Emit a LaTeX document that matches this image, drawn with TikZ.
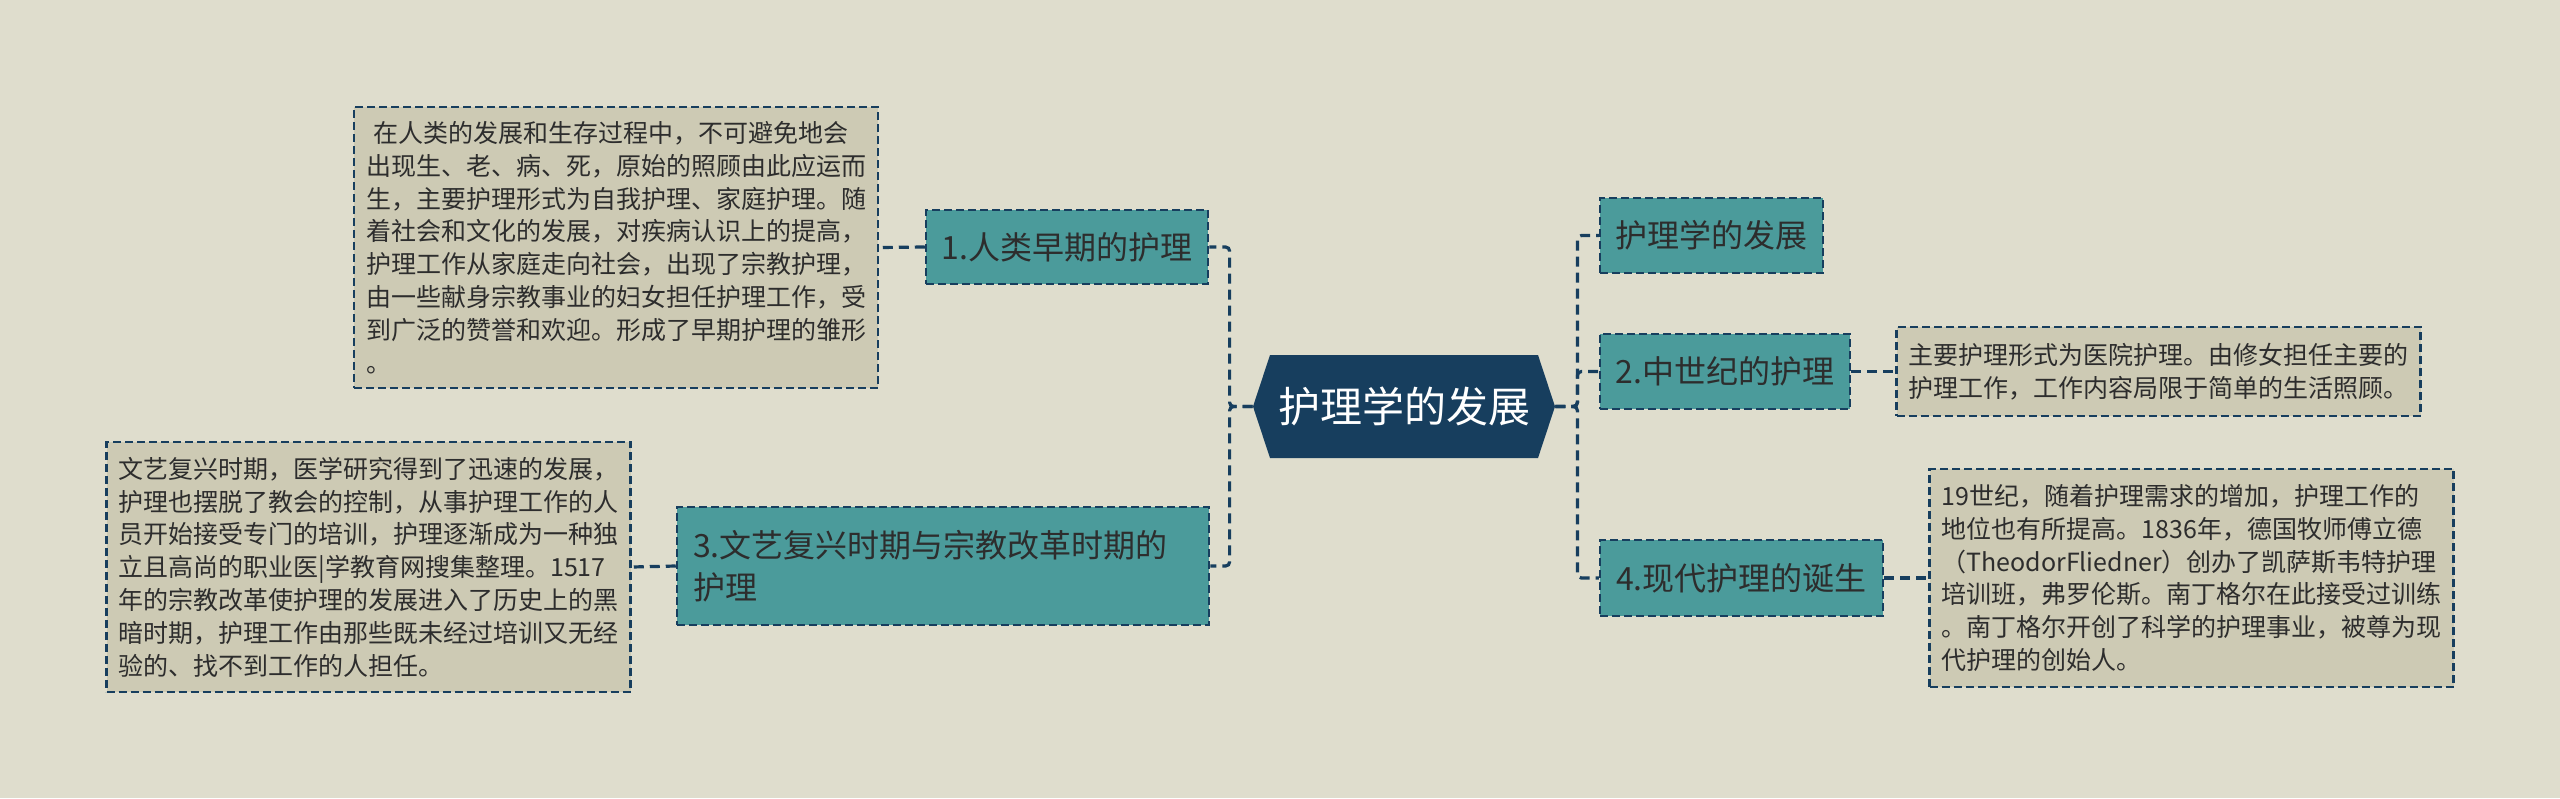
\documentclass[tikz,border=0pt]{standalone}
\usepackage{fontspec}
\setmainfont{Noto Sans CJK SC}
\usepackage{tikz}
\usetikzlibrary{positioning}

\definecolor{bgcol}{RGB}{223,221,205}
\definecolor{notecol}{RGB}{205,202,180}
\definecolor{tealcol}{RGB}{75,155,155}
\definecolor{navycol}{RGB}{23,62,94}
\definecolor{inkcol}{RGB}{45,45,45}

\tikzset{
	link/.style={draw=navycol,line width=1.6pt,dash pattern=on 5pt off 3pt,rounded corners=2pt},
	topic/.style={fill=tealcol,draw=navycol,line width=1.25pt,dash pattern=on 4pt off 2pt,
		text=inkcol,font=\fontsize{16pt}{21pt}\selectfont,inner sep=0pt,align=center},
	detail/.style={fill=notecol,draw=navycol,line width=1.25pt,dash pattern=on 4pt off 2pt,
		text=inkcol,font=\fontsize{12.5pt}{16.4pt}\selectfont,inner xsep=6pt,inner ysep=0pt,
		text width=250pt,align=left},
	rootbox/.style={text=white,font=\fontsize{21pt}{26pt}\selectfont,inner sep=0pt,
		minimum width=151pt,minimum height=51.5pt}
}

\begin{document}
\begin{tikzpicture}[x=0.5pt,y=-0.5pt]
	\useasboundingbox (0,0) rectangle (2560,798);
	\fill[bgcol] (0,0) rectangle (2560,798);
	% centre
	\fill[navycol] (1253,406.5) -- (1270,355) -- (1538,355) -- (1555,406.5) -- (1538,458) -- (1270,458) -- cycle;
	\node[rootbox] (root) at (1404,406.5) {护理学的发展};
	% branches
	\node[topic,minimum width=141pt,minimum height=37pt] (early) at (1067,247) {1.人类早期的护理};
	\node[topic,minimum width=266pt,minimum height=59pt,text width=250pt,inner xsep=8pt,align=left] (renais) at (943,566)
		{3.文艺复兴时期与宗教改革时期的\\护理};
	\node[topic,minimum width=111.5pt,minimum height=37.5pt] (dev) at (1711.5,235.5) {护理学的发展};
	\node[topic,minimum width=125pt,minimum height=37.5pt] (middle) at (1725,371.5) {2.中世纪的护理};
	\node[topic,minimum width=141.5pt,minimum height=38pt] (modern) at (1741.5,578) {4.现代护理的诞生};
	% notes
	\node[detail,minimum height=140.5pt] (earlynote) at (616,247.5) {%
		\hspace*{3.5pt}在人类的发展和生存过程中，不可避免地会\\
		出现生、老、病、死，原始的照顾由此应运而\\
		生，主要护理形式为自我护理、家庭护理。随\\
		着社会和文化的发展，对疾病认识上的提高，\\
		护理工作从家庭走向社会，出现了宗教护理，\\
		由一些献身宗教事业的妇女担任护理工作，受\\
		到广泛的赞誉和欢迎。形成了早期护理的雏形\\
		。};
	\node[detail,minimum height=125pt] (renaisnote) at (368.5,567) {%
		文艺复兴时期，医学研究得到了迅速的发展，\\
		护理也摆脱了教会的控制，从事护理工作的人\\
		员开始接受专门的培训，护理逐渐成为一种独\\
		立且高尚的职业医|学教育网搜集整理。1517\\
		年的宗教改革使护理的发展进入了历史上的黑\\
		暗时期，护理工作由那些既未经过培训又无经\\
		验的、找不到工作的人担任。};
	\node[detail,minimum height=44.5pt] (middlenote) at (2158.5,371.5) {%
		主要护理形式为医院护理。由修女担任主要的\\
		护理工作，工作内容局限于简单的生活照顾。};
	\node[detail,minimum height=109pt] (modernnote) at (2191.5,578) {%
		19世纪，随着护理需求的增加，护理工作的\\
		地位也有所提高。1836年，德国牧师傅立德\\
		（TheodorFliedner）创办了凯萨斯韦特护理\\
		培训班，弗罗伦斯。南丁格尔在此接受过训练\\
		。南丁格尔开创了科学的护理事业，被尊为现\\
		代护理的创始人。};
	% connectors
	\foreach \n in {early,renais} {
		\draw[link] (root.west) -- ++(-23,0) |- (\n.east);
	}
	\foreach \n in {dev,middle,modern} {
		\draw[link] (root.east) -- ++(22,0) |- (\n.west);
	}
	\draw[link] (early.west) -- (earlynote.east);
	\draw[link] (renais.west) -- (renaisnote.east);
	\draw[link] (middle.east) -- (middlenote.west);
	\draw[link] (modern.east) -- (modernnote.west);
\end{tikzpicture}
\end{document}
